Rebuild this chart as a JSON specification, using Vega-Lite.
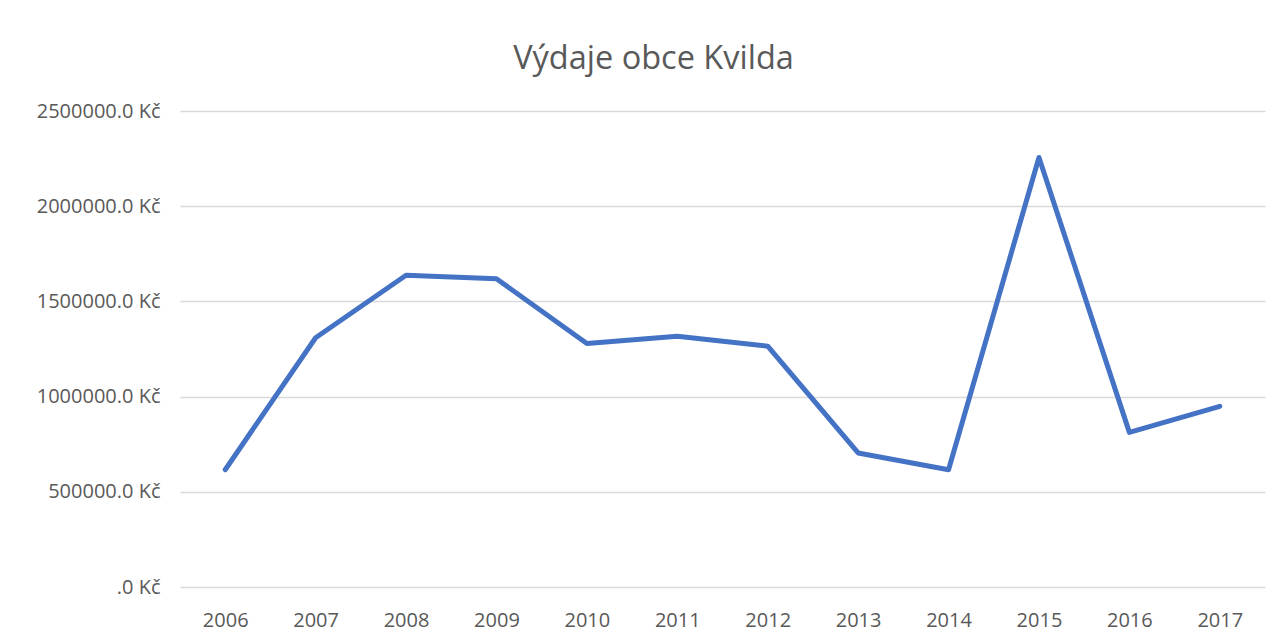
{
  "$schema": "https://vega.github.io/schema/vega-lite/v6.json",
  "autosize": {"type": "none"},
  "padding": {"left": 180, "top": 111, "right": 19, "bottom": 57},
  "width": 1085,
  "height": 476,
  "background": "white",
  "title": {
    "text": "Výdaje obce Kvilda",
    "font": "Open Sans",
    "fontSize": 32.5,
    "fontWeight": "normal",
    "color": "#595959",
    "anchor": "middle",
    "dx": -69,
    "offset": 26
  },
  "data": {
    "values": [
      {"rok": "2006", "vydaje": 616000},
      {"rok": "2007", "vydaje": 1309000},
      {"rok": "2008", "vydaje": 1637000},
      {"rok": "2009", "vydaje": 1619000},
      {"rok": "2010", "vydaje": 1279000},
      {"rok": "2011", "vydaje": 1317000},
      {"rok": "2012", "vydaje": 1265000},
      {"rok": "2013", "vydaje": 704000},
      {"rok": "2014", "vydaje": 616000},
      {"rok": "2015", "vydaje": 2256000},
      {"rok": "2016", "vydaje": 812000},
      {"rok": "2017", "vydaje": 949000}
    ]
  },
  "mark": {"type": "line", "color": "#4472c4", "strokeWidth": 5, "strokeCap": "round", "strokeJoin": "round"},
  "encoding": {
    "x": {
      "field": "rok",
      "type": "ordinal",
      "scale": {"type": "point", "padding": 0.5},
      "axis": {
        "title": null,
        "labelAngle": 0,
        "domain": false,
        "ticks": false,
        "grid": false,
        "labelFont": "Open Sans",
        "labelFontSize": 20,
        "labelColor": "#595959",
        "labelPadding": 23
      }
    },
    "y": {
      "field": "vydaje",
      "type": "quantitative",
      "scale": {"domain": [0, 2500000], "nice": false},
      "axis": {
        "title": null,
        "values": [0, 500000, 1000000, 1500000, 2000000, 2500000],
        "labelExpr": "datum.value == 0 ? '.0 Kč' : format(datum.value, '.1f') + ' Kč'",
        "domain": false,
        "ticks": false,
        "grid": true,
        "gridColor": "#d9d9d9",
        "gridWidth": 1.3,
        "labelFont": "Open Sans",
        "labelFontSize": 20,
        "labelColor": "#595959",
        "labelPadding": 20
      }
    }
  },
  "config": {"view": {"stroke": null}}
}
